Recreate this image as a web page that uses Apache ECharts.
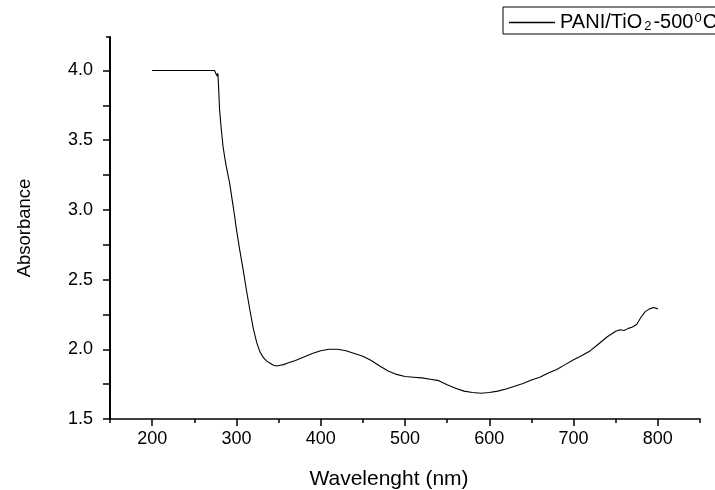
<!DOCTYPE html>
<html>
<head>
<meta charset="utf-8">
<script src="https://cdn.jsdelivr.net/npm/echarts@6/dist/echarts.min.js"></script>
<style>
  html, body { margin: 0; padding: 0; background: #fff; }
  #chart { width: 715px; height: 490px; }
</style>
</head>
<body>
<div id="chart"></div>
<script>
// wavelength (nm) and absorbance
const wavelength = [
  200, 210, 220, 230, 240, 250, 260, 270, 274, 276, 277, 278, 279, 280,
  282, 284, 286, 288, 290, 292, 295, 298, 300, 304, 308, 312, 316, 320,
  324, 328, 332, 336, 340, 344, 348, 352, 356, 360, 370, 380, 390, 400,
  410, 420, 430, 440, 450, 460, 470, 480, 490, 500, 510, 520, 530, 540,
  550, 560, 570, 580, 590, 600, 610, 620, 630, 640, 650, 660, 670, 680,
  690, 700, 710, 720, 730, 740, 750, 755, 760, 765, 770, 775, 780, 785,
  790, 795, 800
];
const absorbance = [
  4.0, 4.0, 4.0, 4.0, 4.0, 4.0, 4.0, 4.0, 4.0, 3.99, 3.96, 3.98, 3.86, 3.72,
  3.58, 3.46, 3.38, 3.31, 3.25, 3.19, 3.07, 2.95, 2.86, 2.71, 2.57, 2.42, 2.28, 2.15,
  2.05, 1.98, 1.94, 1.915, 1.90, 1.885, 1.88, 1.885, 1.89, 1.90, 1.92, 1.945, 1.97, 1.99,
  2.0, 2.0, 1.99, 1.97, 1.95, 1.92, 1.88, 1.845, 1.82, 1.805, 1.80, 1.795, 1.785, 1.775,
  1.745, 1.72, 1.70, 1.69, 1.685, 1.69, 1.70, 1.715, 1.735, 1.755, 1.78, 1.80, 1.83, 1.855,
  1.89, 1.925, 1.955, 1.99, 2.04, 2.09, 2.13, 2.14, 2.135, 2.15, 2.16, 2.18, 2.23, 2.27,
  2.29, 2.30, 2.29
];

const xLabels = [200, 300, 400, 500, 600, 700, 800];
const xMinorTicks = [150, 250, 350, 450, 550, 650, 750, 850];
const yLabels = [1.5, 2.0, 2.5, 3.0, 3.5, 4.0];
const yTicks = [1.5, 1.75, 2.0, 2.25, 2.5, 2.75, 3.0, 3.25, 3.5, 3.75, 4.0];
const yTopTick = [4.24];

const seriesName = 'PANI/TiO{sub|2}-500{sup|0}C';

const chart = echarts.init(document.getElementById('chart'));
const font = 'Liberation Sans, Arial, sans-serif';

chart.setOption({
  animation: false,
  textStyle: { fontFamily: font },
  grid: { left: 110, right: 15, top: 37, bottom: 71, containLabel: false, outerBoundsMode: 'none' },
  legend: {
    left: 503,
    top: 7,
    orient: 'horizontal',
    borderColor: '#000',
    borderWidth: 1,
    borderRadius: 0,
    padding: [1, 12, 1, 6],
    itemWidth: 46,
    itemHeight: 14,
    textStyle: {
      fontFamily: font,
      fontSize: 20,
      lineHeight: 21,
      color: '#000',
      rich: {
        sub: { fontSize: 13, fontFamily: font, color: '#000', verticalAlign: 'bottom', lineHeight: 21, padding: [12, 2, 0, 2] },
        sup: { fontSize: 13, fontFamily: font, color: '#000', verticalAlign: 'top', lineHeight: 21, padding: [0, 1, 7, 1] }
      }
    },
    data: [{ name: seriesName, icon: 'path://M0,0 H46 V1.3 H0 Z', itemStyle: { color: '#000' } }]
  },
  xAxis: [
    {
      type: 'value',
      min: 150,
      max: 850,
      position: 'bottom',
      name: 'Wavelenght (nm)',
      nameLocation: 'middle',
      nameGap: 50,
      nameTextStyle: { fontSize: 21, color: '#000', fontFamily: font, padding: [0, 32, 0, 0] },
      axisLine: { show: true, lineStyle: { color: '#000', width: 1.5 } },
      axisTick: { show: true, length: 7, lineStyle: { color: '#000', width: 1.5 }, customValues: xLabels },
      axisLabel: { show: true, fontSize: 18, color: '#000', margin: 11, customValues: xLabels },
      splitLine: { show: false }
    },
    {
      type: 'value',
      min: 150,
      max: 850,
      position: 'bottom',
      axisLine: { show: false },
      axisTick: { show: true, length: 4, lineStyle: { color: '#000', width: 1.5 }, customValues: xMinorTicks },
      axisLabel: { show: false },
      splitLine: { show: false }
    }
  ],
  yAxis: [
    {
      type: 'value',
      min: 1.5,
      max: 4.24,
      position: 'left',
      name: 'Absorbance',
      nameLocation: 'middle',
      nameGap: 76,
      nameTextStyle: { fontSize: 18.5, color: '#000', fontFamily: font },
      axisLine: { show: true, lineStyle: { color: '#000', width: 2 } },
      axisTick: { show: true, length: 7, lineStyle: { color: '#000', width: 1.5 }, customValues: yTicks },
      axisLabel: {
        show: true, fontSize: 18, color: '#000', margin: 17,
        customValues: yLabels,
        formatter: (v) => v.toFixed(1)
      },
      splitLine: { show: false }
    },
    {
      type: 'value',
      min: 1.5,
      max: 4.24,
      position: 'left',
      axisLine: { show: false },
      axisTick: { show: true, length: 4, lineStyle: { color: '#000', width: 1.5 }, customValues: yTopTick },
      axisLabel: { show: false },
      splitLine: { show: false }
    }
  ],
  series: [
    {
      name: seriesName,
      type: 'line',
      xAxisIndex: 0,
      yAxisIndex: 0,
      showSymbol: false,
      symbol: 'none',
      smooth: false,
      lineStyle: { color: '#000', width: 1.1 },
      itemStyle: { color: '#000' },
      data: wavelength.map((w, i) => [w, absorbance[i]])
    }
  ]
});
</script>
</body>
</html>
